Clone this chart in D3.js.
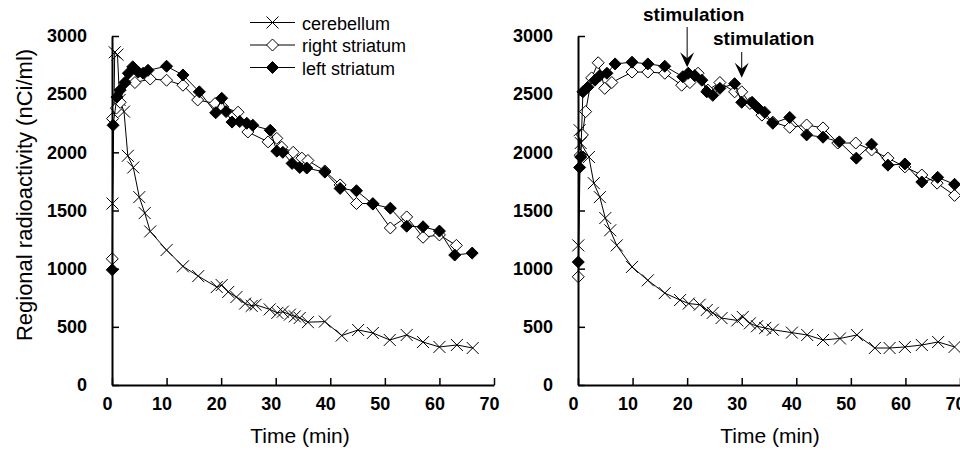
<!DOCTYPE html>
<html>
<head>
<meta charset="utf-8">
<script src="https://cdn.jsdelivr.net/npm/d3@7"></script>
<style>
  html, body { margin: 0; padding: 0; background: #fff; }
  svg { display: block; }
  text { font-family: "Liberation Sans", Arial, "DejaVu Sans", sans-serif; fill: #000; }
</style>
</head>
<body>
<svg id="chart" width="960" height="451"></svg>
<script>
// ---------------- data ----------------
const seriesNames = ["cerebellum", "right striatum", "left striatum"];
const xTicks = [0, 10, 20, 30, 40, 50, 60, 70];
const yTicks = [0, 500, 1000, 1500, 2000, 2500, 3000];
const xTitle = "Time (min)";
const yTitle = "Regional radioactivity (nCi/ml)";
const annotationLabels = ["stimulation", "stimulation"];
const stimulationTimes = [20, 30];
const stimulationValues = [2680, 2590];

// left panel
const leftCerT = [0.1,0.5,1.0,1.4,2.2,2.9,3.9,5.0,6.0,7.0,10,13,15.8,19.2,20.1,21.3,22.8,24.4,25.6,26.3,28.9,30.3,31.3,32.6,33.5,34.4,35.9,39,42.1,45.1,47.8,50.9,54,57,60,63.2,66.1];
const leftCerV = [1560,2860,2840,2450,2350,1970,1870,1615,1478,1320,1160,1020,936,842,859,800,756,700,680,690,650,620,630,605,590,576,540,545,425,473,447,387,430,369,327,344,318];
const leftRightT = [0.05,0.1,0.8,1.5,2.4,4.2,7,10,13,15.7,18.9,20.3,23.1,24.9,28.6,30.2,31.1,33.2,34.8,35.9,39,41.8,44.8,47.8,51,54,57,60,63.1];
const leftRightV = [1085,2290,2380,2430,2600,2600,2630,2620,2577,2450,2420,2390,2345,2175,2090,2120,2045,2000,1950,1930,1840,1720,1560,1560,1350,1445,1270,1290,1200];
const leftLeftT = [0.05,0.2,0.9,1.5,2.4,3.0,3.8,4.8,5.7,6.6,10,13,16,19,20.1,20.9,22,23.4,24.7,25.8,29,30.2,31.3,33,34.4,35.7,39,41.8,44.8,47.8,51,54,57,60,62.8,66];
const leftLeftV = [990,2233,2475,2535,2600,2680,2735,2690,2680,2705,2740,2665,2520,2340,2465,2350,2260,2265,2250,2233,2190,2010,2000,1905,1870,1865,1830,1690,1670,1555,1520,1365,1360,1323,1117,1134];

// right panel
const rightCerT = [0.05,0.3,0.5,2.0,2.9,4.0,5.0,5.9,7.1,9.9,12.8,15.9,18.7,20.3,22.3,23.6,24.7,26.3,29.2,30.2,31.5,32.8,34.3,35.7,39.2,42,44.9,48,51.1,54.4,57.1,59.9,63,66,69];
const rightCerV = [1200,2190,2080,1960,1735,1615,1435,1330,1200,1015,900,790,730,700,690,645,620,575,555,585,530,505,490,475,450,430,387,400,430,318,318,327,344,370,327];
const rightRightT = [0.05,0.4,0.8,1.4,2.5,3.7,4.9,6.2,9.9,12.8,15.9,19,20.5,22,23.8,26,28.7,30,31.5,33.7,35.7,38.8,41.9,44.9,47.6,50.9,53.8,56.8,59.9,63,65.8,69];
const rightRightV = [930,1975,2150,2350,2640,2770,2550,2600,2690,2690,2680,2577,2600,2680,2535,2600,2520,2520,2420,2320,2260,2215,2235,2210,2080,2080,2020,1950,1875,1805,1735,1630];
const rightLeftT = [0.05,0.3,0.5,0.9,1.8,3.1,4.0,5.3,6.8,9.9,12.8,15.9,19.2,20.2,21.4,22.7,23.6,24.7,26,28.7,30,31.9,33,34.2,35.7,38.8,41.9,44.9,47.9,51,53.8,56.8,59.9,63,65.9,69];
const rightLeftV = [1057,1870,1960,2520,2560,2620,2660,2680,2760,2775,2760,2740,2650,2680,2660,2620,2520,2490,2550,2590,2430,2430,2380,2345,2250,2300,2150,2130,2090,1950,2070,1890,1900,1745,1785,1725];

// ---------------- drawing ----------------
const svg = d3.select("#chart");
const FONT = '"Liberation Sans", Arial, sans-serif';

const zip = (ts, vs) => ts.map((t, i) => ({ t, v: vs[i] }));

const panels = [
  { left: 112, right: 494, series: [zip(leftCerT, leftCerV), zip(leftRightT, leftRightV), zip(leftLeftT, leftLeftV)], legend: true, stim: false, yTitle: true, titleX: 300 },
  { left: 578, right: 960, series: [zip(rightCerT, rightCerV), zip(rightRightT, rightRightV), zip(rightLeftT, rightLeftV)], legend: false, stim: true, yTitle: false, titleX: 770 }
];

const yScale = d3.scaleLinear().domain([0, 3000]).range([385, 36]);

function drawMarker(g, kind, x, y) {
  const s = 6;
  if (kind === 0) {
    g.append("path")
      .attr("d", `M${x - s},${y - s}L${x + s},${y + s}M${x - s},${y + s}L${x + s},${y - s}`)
      .attr("stroke", "#000").attr("stroke-width", 1).attr("fill", "none");
  } else {
    g.append("path")
      .attr("d", `M${x},${y - s}L${x + s},${y}L${x},${y + s}L${x - s},${y}Z`)
      .attr("stroke", "#000").attr("stroke-width", 1)
      .attr("fill", kind === 1 ? "#fff" : "#000");
  }
}

panels.forEach(p => {
  const xScale = d3.scaleLinear().domain([0, 70]).range([p.left, p.right]);
  const g = svg.append("g");

  // series
  const line = d3.line().x(d => xScale(d.t)).y(d => yScale(d.v));
  p.series.forEach((data, k) => {
    const sg = g.append("g");
    sg.append("path").datum(data).attr("d", line)
      .attr("fill", "none").attr("stroke", "#000").attr("stroke-width", 1);
    data.forEach(d => drawMarker(sg, k, xScale(d.t), yScale(d.v)));
  });

  // y axis
  const yAxis = d3.axisLeft(yScale).tickValues(yTicks).tickFormat(d3.format("d"))
    .tickSize(-7).tickSizeOuter(0).tickPadding(25);
  const ya = g.append("g").attr("transform", `translate(${p.left},0)`).call(yAxis);
  ya.select(".domain").attr("stroke-width", 2);
  ya.selectAll(".tick line").attr("stroke-width", 1.5);
  ya.selectAll(".tick text").attr("font-family", FONT).attr("font-size", 18).attr("font-weight", "bold").attr("fill", "#000");

  // x axis
  const xAxis = d3.axisBottom(xScale).tickValues(xTicks).tickFormat(d3.format("d"))
    .tickSize(-7).tickSizeOuter(0).tickPadding(12);
  const xa = g.append("g").attr("transform", `translate(0,385)`).call(xAxis);
  xa.select(".domain").attr("stroke-width", 2);
  xa.selectAll(".tick line").attr("stroke-width", 1.5);
  xa.selectAll(".tick text").attr("font-family", FONT).attr("font-size", 18).attr("font-weight", "bold").attr("fill", "#000")
    .attr("dx", -5);

  // x title
  g.append("text").attr("x", p.titleX).attr("y", 443).attr("text-anchor", "middle")
    .attr("font-size", 21).text(xTitle);

  if (p.yTitle) {
    g.append("text").attr("transform", "translate(32,195) rotate(-90)")
      .attr("text-anchor", "middle").attr("font-size", 22).text(yTitle);
  }

  if (p.legend) {
    const rows = [22.5, 45, 67.5];
    seriesNames.forEach((name, k) => {
      const lg = g.append("g");
      lg.append("line").attr("x1", 250).attr("x2", 295).attr("y1", rows[k]).attr("y2", rows[k])
        .attr("stroke", "#000").attr("stroke-width", 1);
      drawMarker(lg, k, 272.5, rows[k]);
      lg.append("text").attr("x", 302).attr("y", rows[k] + 7).attr("font-size", 18).text(name);
    });
  }

  if (p.stim) {
    const labelPos = [{ x: 643, y: 21 }, { x: 713, y: 45 }];
    const arrowTop = [27, 52];
    stimulationTimes.forEach((t, i) => {
      const ax = xScale(t);
      const tip = yScale(stimulationValues[i]) - 6;
      g.append("text").attr("x", labelPos[i].x).attr("y", labelPos[i].y)
        .attr("font-size", 19).attr("font-weight", "bold").text(annotationLabels[i]);
      g.append("line").attr("x1", ax).attr("x2", ax).attr("y1", arrowTop[i]).attr("y2", tip - 8)
        .attr("stroke", "#000").attr("stroke-width", 1);
      g.append("path")
        .attr("d", `M${ax},${tip}L${ax - 7},${tip - 15}L${ax},${tip - 9}L${ax + 7},${tip - 15}Z`)
        .attr("fill", "#000");
    });
  }
});
</script>
</body>
</html>
